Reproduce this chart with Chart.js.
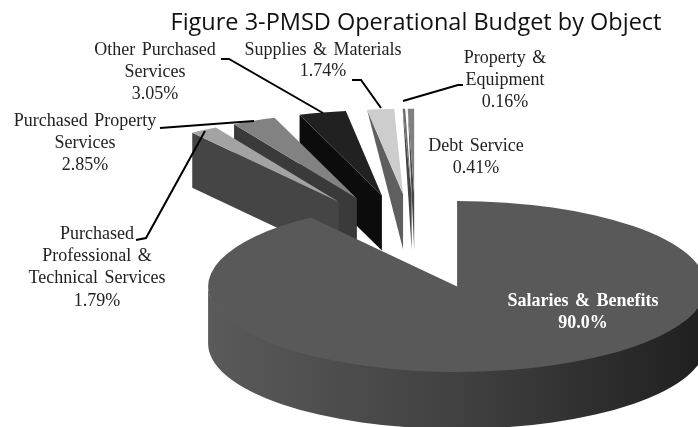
<!DOCTYPE html>
<html>
<head>
<meta charset="utf-8">
<title>PMSD Operational Budget by Object</title>
<script src="https://cdn.jsdelivr.net/npm/chart.js@4"></script>
<style>
    html, body { margin: 0; padding: 0; background: #fff; }
    canvas { display: block; }
</style>
</head>
<body>
<canvas id="budget-pie" width="698" height="427"></canvas>
<script>
// Data, clockwise from 12 o'clock
const categories = ['Salaries & Benefits', 'Purchased Professional & Technical Services', 'Purchased Property Services',
    'Other Purchased Services', 'Supplies & Materials', 'Property & Equipment', 'Debt Service'];
const budgetShare = [90.0, 1.79, 2.85, 3.05, 1.74, 0.16, 0.41];
const shareLabels = ['90.0%', '1.79%', '2.85%', '3.05%', '1.74%', '0.16%', '0.41%'];

// Look of the fake 3D pie
const topColors = ['#595959', '#a3a3a3', '#828282', '#212121', '#cdcdcd', '#6e6e6e', '#808080'];
const wallColors = ['#404040', '#454545', '#3a3a3a', '#0c0c0c', '#5f5f5f', '#444444', '#484848'];
const explode = [133, 143, 143, 143, 143, 143, 143];
const tilt = 0.343;
const depth = 55;
const mainDepth = 57;
const paintOrder = [6, 5, 4, 3, 2, 1, 0];

// Callouts: text lines at [x, y], leader as a polyline
const callouts = [
    { lines: ['Purchased', 'Professional &', 'Technical Services'], index: 1, x: 97, y: 234, gap: 22.3,
      leader: [[136, 240], [146, 238], [205, 131]] },
    { lines: ['Purchased Property', 'Services'], index: 2, x: 85, y: 121, gap: 22,
      leader: [[160, 128], [254, 121]] },
    { lines: ['Other Purchased', 'Services'], index: 3, x: 155, y: 50, gap: 22,
      leader: [[221, 59], [229, 59], [323, 113]] },
    { lines: ['Supplies & Materials'], index: 4, x: 323, y: 50, gap: 21,
      leader: [[352, 80], [361, 80], [381, 108]] },
    { lines: ['Property &', 'Equipment'], index: 5, x: 505, y: 58, gap: 22,
      leader: [[403, 101], [458, 85], [463, 85]] },
    { lines: ['Debt Service'], index: 6, x: 476, y: 146, gap: 22, leader: [] }
];

// ─── Arc helpers ─────────────────────────────────────────────────────────

function apexOf(arc, i) {
    const mid = (arc.startAngle + arc.endAngle) / 2;
    return {
        x: arc.x + Math.cos(mid) * explode[i],
        y: arc.y + Math.sin(mid) * explode[i] * tilt
    };
}

function drawMainWall(ctx, arc, apex) {
    const a = arc.outerRadius, b = a * tilt;
    const shade = ctx.createLinearGradient(apex.x - a, 0, apex.x + a, 0);
    shade.addColorStop(0, '#5a5a5a');
    shade.addColorStop(0.5, '#414141');
    shade.addColorStop(1, '#1f1f1f');
    ctx.fillStyle = shade;
    ctx.beginPath();
    // start 1px high so no seam shows under the top face
    ctx.ellipse(apex.x, apex.y - 1, a, b, 0, 0, Math.PI);
    ctx.lineTo(apex.x - a, apex.y + mainDepth);
    ctx.ellipse(apex.x, apex.y + mainDepth, a, b, 0, Math.PI, 0, true);
    ctx.closePath();
    ctx.fill();
}

function drawCutWall(ctx, arc, apex, i) {
    const outerX = apex.x + Math.cos(arc.startAngle) * arc.outerRadius;
    const outerY = apex.y + Math.sin(arc.startAngle) * arc.outerRadius * tilt;
    ctx.fillStyle = wallColors[i];
    ctx.beginPath();
    ctx.moveTo(outerX, outerY);
    ctx.lineTo(apex.x, apex.y);
    ctx.lineTo(apex.x, apex.y + depth);
    // the three narrowest wedges taper to a point in the original
    if (i < 4) ctx.lineTo(outerX, outerY + depth);
    ctx.closePath();
    ctx.fill();
}

const pie3d = {
    id: 'pie3d',
    beforeDatasetDraw(chart, args) {
        const ctx = chart.ctx;
        const arcs = args.meta.data;
        paintOrder.forEach(i => {
            const arc = arcs[i];
            const apex = apexOf(arc, i);
            if (i === 0) drawMainWall(ctx, arc, apex);
            else drawCutWall(ctx, arc, apex, i);
            ctx.save();
            ctx.translate(apex.x, apex.y);
            ctx.scale(1, tilt);
            ctx.translate(-arc.x, -arc.y);
            arc.draw(ctx);
            ctx.restore();
        });
        return false;
    },
    afterDraw(chart) {
        const ctx = chart.ctx;
        ctx.save();
        ctx.textAlign = 'center';
        ctx.textBaseline = 'middle';
        ctx.font = '18px "Liberation Serif"';
        ctx.wordSpacing = '2px';

        ctx.strokeStyle = '#000';
        ctx.lineWidth = 2;
        callouts.forEach(c => {
            if (!c.leader.length) return;
            ctx.beginPath();
            c.leader.forEach(([x, y], n) => n ? ctx.lineTo(x, y) : ctx.moveTo(x, y));
            ctx.stroke();
        });

        ctx.fillStyle = '#222';
        callouts.forEach(c => {
            c.lines.forEach((line, n) => ctx.fillText(line, c.x, c.y + n * c.gap));
            ctx.fillText(shareLabels[c.index], c.x, c.y + c.lines.length * c.gap);
        });

        ctx.fillStyle = '#fff';
        ctx.font = 'bold 18px "Liberation Serif"';
        ctx.fillText(categories[0], 583, 301);
        ctx.fillText(shareLabels[0], 583, 323);
        ctx.restore();
    }
};

new Chart(document.getElementById('budget-pie').getContext('2d'), {
    type: 'pie',
    data: {
        labels: categories,
        datasets: [{
            data: budgetShare,
            backgroundColor: topColors,
            borderWidth: 0,
            radius: 249
        }]
    },
    options: {
        responsive: false,
        animation: false,
        layout: { padding: { left: 134 } },
        plugins: {
            legend: { display: false },
            tooltip: { enabled: false },
            title: {
                display: true,
                fullSize: false,
                text: 'Figure 3-PMSD Operational Budget by Object',
                color: '#111',
                font: { family: '"Open Sans"', size: 23.5, weight: 'normal' },
                padding: { top: 9, bottom: 22 }
            }
        }
    },
    plugins: [pie3d]
});
</script>
</body>
</html>
